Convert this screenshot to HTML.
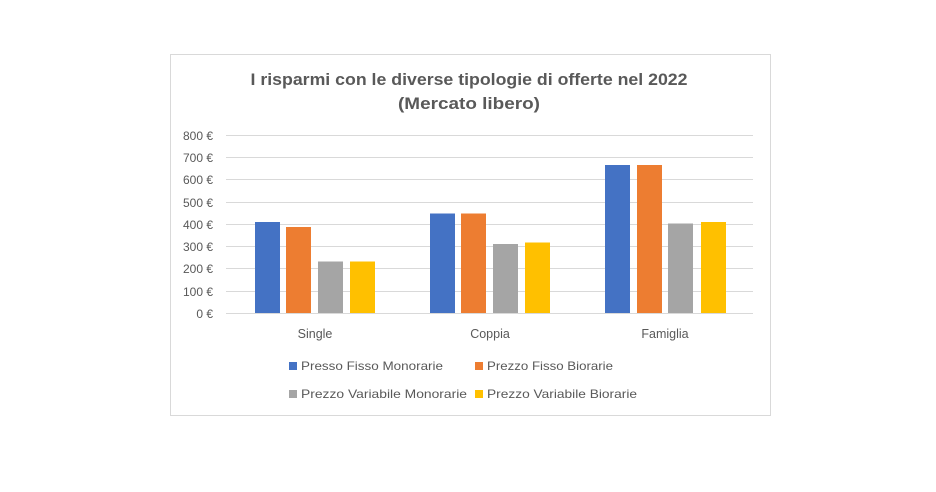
<!DOCTYPE html>
<html><head><meta charset="utf-8"><style>
html,body{margin:0;padding:0;background:#fff;}
svg{display:block;font-family:"Liberation Sans",sans-serif;}
</style></head><body>
<svg width="936" height="492" viewBox="0 0 936 492" xmlns="http://www.w3.org/2000/svg">
<rect x="170.5" y="54.5" width="600" height="361" fill="#fff" stroke="#d9d9d9"/>
<g font-weight="bold" font-size="17" fill="#595959" text-anchor="middle">
<text x="469" y="85" textLength="437" lengthAdjust="spacingAndGlyphs">I risparmi con le diverse tipologie di offerte nel 2022</text>
<text x="469" y="109" textLength="142" lengthAdjust="spacingAndGlyphs">(Mercato libero)</text>
</g>
<g stroke="#d9d9d9" stroke-width="1">
<line x1="226" x2="753" y1="135.5" y2="135.5"/>
<line x1="226" x2="753" y1="157.5" y2="157.5"/>
<line x1="226" x2="753" y1="179.5" y2="179.5"/>
<line x1="226" x2="753" y1="202.5" y2="202.5"/>
<line x1="226" x2="753" y1="224.5" y2="224.5"/>
<line x1="226" x2="753" y1="246.5" y2="246.5"/>
<line x1="226" x2="753" y1="268.5" y2="268.5"/>
<line x1="226" x2="753" y1="291.5" y2="291.5"/>
<line x1="226" x2="753" y1="313.5" y2="313.5"/>
</g>
<g font-size="12" fill="#595959" text-anchor="end">
<text x="213" y="140">800 €</text>
<text x="213" y="162">700 €</text>
<text x="213" y="184">600 €</text>
<text x="213" y="207">500 €</text>
<text x="213" y="229">400 €</text>
<text x="213" y="251">300 €</text>
<text x="213" y="273">200 €</text>
<text x="213" y="296">100 €</text>
<text x="213" y="318">0 €</text>
</g>
<g>
<rect x="255" y="222" width="25" height="91" fill="#4472c4"/>
<rect x="286" y="227" width="25" height="86" fill="#ed7d31"/>
<rect x="318" y="261.5" width="25" height="51.5" fill="#a5a5a5"/>
<rect x="350" y="261.5" width="25" height="51.5" fill="#ffc000"/>
<rect x="430" y="213.5" width="25" height="99.5" fill="#4472c4"/>
<rect x="461" y="213.5" width="25" height="99.5" fill="#ed7d31"/>
<rect x="493" y="244" width="25" height="69" fill="#a5a5a5"/>
<rect x="525" y="242.5" width="25" height="70.5" fill="#ffc000"/>
<rect x="605" y="165" width="25" height="148" fill="#4472c4"/>
<rect x="637" y="165" width="25" height="148" fill="#ed7d31"/>
<rect x="668" y="223.5" width="25" height="89.5" fill="#a5a5a5"/>
<rect x="701" y="222" width="25" height="91" fill="#ffc000"/>
</g>
<g font-size="12.5" fill="#595959" text-anchor="middle">
<text x="315" y="338">Single</text>
<text x="490" y="338">Coppia</text>
<text x="665" y="338">Famiglia</text>
</g>
<g font-size="12" fill="#595959">
<rect x="289" y="362" width="8" height="8" fill="#4472c4"/>
<text x="301" y="370" textLength="142" lengthAdjust="spacingAndGlyphs">Presso Fisso Monorarie</text>
<rect x="475" y="362" width="8" height="8" fill="#ed7d31"/>
<text x="487" y="370" textLength="126" lengthAdjust="spacingAndGlyphs">Prezzo Fisso Biorarie</text>
<rect x="289" y="390" width="8" height="8" fill="#a5a5a5"/>
<text x="301" y="398" textLength="166" lengthAdjust="spacingAndGlyphs">Prezzo Variabile Monorarie</text>
<rect x="475" y="390" width="8" height="8" fill="#ffc000"/>
<text x="487" y="398" textLength="150" lengthAdjust="spacingAndGlyphs">Prezzo Variabile Biorarie</text>
</g>
</svg>
</body></html>
